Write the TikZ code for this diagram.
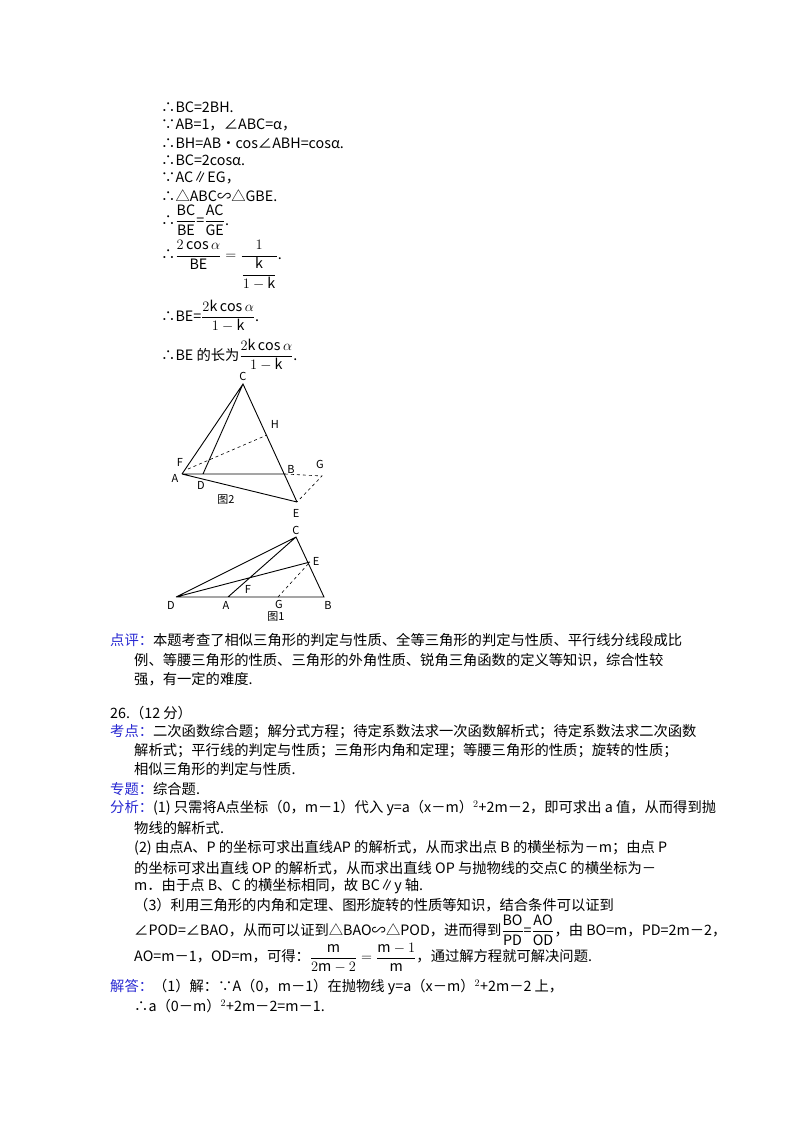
\documentclass[tikz,border=0pt]{standalone}
\usepackage{fontspec}
\setmainfont{Noto Sans CJK SC}
\usetikzlibrary{calc}
\definecolor{lab}{RGB}{40,40,210}
\tikzset{t/.style={anchor=west,inner sep=0pt,font=\fontsize{14.3}{16}\selectfont},
 ln/.style={line width=0.9pt},dl/.style={line width=0.6pt,dashed},
 pl/.style={inner sep=1pt,font=\fontsize{11}{12}\selectfont\itshape\rmfamily}}
\newcommand{\fr}[2]{$\displaystyle\frac{\mathrm{#1}}{\mathrm{#2}}$}
\begin{document}
\begin{tikzpicture}[x=1pt,y=-1pt]
\useasboundingbox (0,0) rectangle (800,1132);
\fill[white] (0,0) rectangle (800,1132);
\node[t] (l1) at (161,107) {∴BC=2BH.};
\node[t] (l2) at (161,125) {∵AB=1，∠ABC=α，};
\node[t] (l3) at (161,143) {∴BH=AB•cos∠ABH=cosα.};
\node[t] (l4) at (161,160) {∴BC=2cosα.};
\node[t] (l5) at (161,178) {∵AC∥EG，};
\node[t] (l6) at (161,196) {∴△ABC∽△GBE.};
\node[t] (l7) at (161,220) {∴\fr{BC}{BE}=\fr{AC}{GE}.};
\node[t] (l8) at (161,265) {∴$\displaystyle\frac{2\cos\alpha}{\mathrm{BE}}=\frac{1}{\displaystyle\frac{\mathrm{k}}{1-\mathrm{k}}}$.};
\node[t] (l9) at (161,316) {∴BE=$\displaystyle\frac{2\mathrm{k}\cos\alpha}{1-\mathrm{k}}$.};
\node[t] (l10) at (161,355) {∴BE 的长为$\displaystyle\frac{2\mathrm{k}\cos\alpha}{1-\mathrm{k}}$.};
% figure 2
\coordinate (C) at (243,384); \coordinate (A) at (182,474); \coordinate (B) at (285,474);
\coordinate (D) at (203,474); \coordinate (F) at (188,469); \coordinate (H) at (267,435);
\coordinate (E) at (297,502); \coordinate (G) at (322,476);
\draw[ln] (A)--(C)--(E) (D)--(C) (A)--(B) (A)--(E);
\draw[dl] (F)--(H) (B)--(G)--(E);
\node[pl] at (243,376) {C}; \node[pl] at (275,424) {H}; \node[pl] at (180,462) {F};
\node[pl] at (175,478) {A}; \node[pl] at (201,485) {D}; \node[pl] at (291,469) {B};
\node[pl] at (320,464) {G}; \node[pl] at (296,513) {E};
\node[font=\fontsize{11}{12}\selectfont] (cap2) at (226,500) {图2};
% figure 1
\coordinate (C1) at (296,537); \coordinate (D1) at (176,597); \coordinate (A1) at (228,597);
\coordinate (G1) at (278,597); \coordinate (B1) at (324,597); \coordinate (E1) at (310,562);
\coordinate (F1) at (247,580);
\draw[ln] (D1)--(B1)--(C1)--(D1) (A1)--(C1) (D1)--(E1);
\draw[dl] (G1)--(E1);
\node[pl] at (296,530) {C}; \node[pl] at (316,561) {E}; \node[pl] at (248,589) {F};
\node[pl] at (171,605) {D}; \node[pl] at (226,605) {A}; \node[pl] at (279,604) {G};
\node[pl] at (328,605) {B};
\node[font=\fontsize{11}{12}\selectfont] (cap1) at (276,617) {图1};
% text blocks
\node[t] (p1) at (110,640) {{\color{lab}点评：}本题考查了相似三角形的判定与性质、全等三角形的判定与性质、平行线分线段成比};
\node[t] (p2) at (134,660) {例、等腰三角形的性质、三角形的外角性质、锐角三角函数的定义等知识，综合性较};
\node[t] (p3) at (134,679) {强，有一定的难度.};
\node[t] (q) at (110,713) {26.（12 分）};
\node[t] (k1) at (110,732) {{\color{lab}考点：}二次函数综合题；解分式方程；待定系数法求一次函数解析式；待定系数法求二次函数};
\node[t] (k2) at (134,751) {解析式；平行线的判定与性质；三角形内角和定理；等腰三角形的性质；旋转的性质；};
\node[t] (k3) at (134,769) {相似三角形的判定与性质.};
\node[t] (z) at (110,789) {{\color{lab}专题：}综合题.};
\node[t] (f1) at (110,808) {{\color{lab}分析：}(1) 只需将A点坐标（0，m－1）代入 y=a（x－m）$^2$+2m－2，即可求出 a 值，从而得到抛};
\node[t] (f2) at (134,828) {物线的解析式.};
\node[t] (f3) at (134,848) {(2) 由点A、P 的坐标可求出直线AP 的解析式，从而求出点 B 的横坐标为－m；由点 P};
\node[t] (f4) at (134,868) {的坐标可求出直线 OP 的解析式，从而求出直线 OP 与抛物线的交点C 的横坐标为－};
\node[t] (f5) at (134,886) {m．由于点 B、C 的横坐标相同，故 BC∥y 轴.};
\node[t] (f6) at (134,905) {（3）利用三角形的内角和定理、图形旋转的性质等知识，结合条件可以证到};
\node[t] (f7) at (134,930) {∠POD=∠BAO，从而可以证到△BAO∽△POD，进而得到\fr{BO}{PD}=\fr{AO}{OD}，由 BO=m，PD=2m－2，};
\node[t] (f8) at (134,958) {AO=m－1，OD=m，可得：$\displaystyle\frac{\mathrm{m}}{2\mathrm{m}-2}=\frac{\mathrm{m}-1}{\mathrm{m}}$，通过解方程就可解决问题.};
\node[t] (j1) at (110,987) {{\color{lab}解答：}（1）解：∵A（0，m－1）在抛物线 y=a（x－m）$^2$+2m－2 上，};
\node[t] (j2) at (134,1006) {∴a（0－m）$^2$+2m－2=m－1.};
\end{tikzpicture}
\end{document}
